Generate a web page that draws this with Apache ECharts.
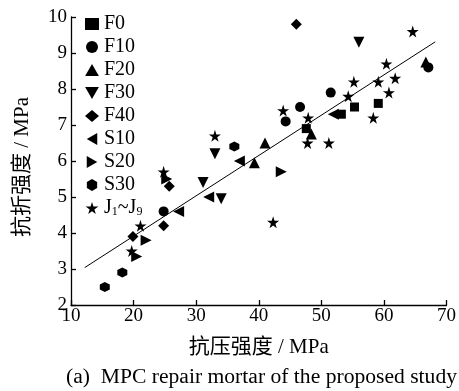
<!DOCTYPE html>
<html>
<head>
<meta charset="utf-8">
<script src="https://cdn.jsdelivr.net/npm/echarts@6/dist/echarts.min.js"></script>
<style>
  html, body { margin: 0; padding: 0; background: #fff; }
  #chart { width: 459px; height: 391px; }
</style>
</head>
<body>
<div id="chart"></div>
<script>
// 抗压强度 (x) / 抗折强度 (y)
const F0 = [[47.6, 6.9], [53.2, 7.3], [55.3, 7.5], [59.1, 7.6]]
const F10 = [[24.8, 4.6], [44.3, 7.1], [46.6, 7.5], [51.5, 7.9], [67.1, 8.6]]
const F20 = [[39.3, 5.95], [41.0, 6.5], [48.4, 6.75], [66.7, 8.75]]
const F30 = [[31.1, 5.4], [33.0, 6.2], [34.0, 4.95], [56.0, 9.3]]
const F40 = [[19.9, 3.9], [24.8, 4.2], [25.7, 5.3], [46.0, 9.8]]
const S10 = [[27.2, 4.6], [32.0, 5.0], [36.9, 6.0], [51.9, 7.3]]
const S20 = [[20.5, 3.35], [22.0, 3.8], [25.3, 5.5], [43.6, 5.7]]
const S30 = [[15.4, 2.5], [18.2, 2.9], [36.1, 6.4]]
const J = [
  [19.7, 3.5], [21.1, 4.2], [24.8, 5.7], [33.0, 6.7], [42.3, 4.3],
  [43.9, 7.4], [47.9, 7.2], [47.8, 6.5], [51.2, 6.5], [54.3, 7.8],
  [55.2, 8.2], [58.3, 7.2], [59.1, 8.2], [60.4, 8.7], [60.8, 7.9],
  [61.8, 8.3], [64.6, 9.6]
]
// 拟合直线端点
const trendX = [12.2, 68.2]
const trendY = [3.04, 9.31]

const serif = '"Liberation Serif", "Noto Sans CJK SC", serif'
const starPath = 'path://M50,0 L61,35 L98,35 L68,57 L79,91 L50,70 L21,91 L32,57 L2,35 L39,35 Z'
const hexPath = 'path://M50,0 L93,25 L93,75 L50,100 L7,75 L7,25 Z'
const triUp = 'path://M50,0 L100,87 L0,87 Z'
const triDown = 'path://M0,0 L100,0 L50,87 Z'
const triLeft = 'path://M0,50 L87,0 L87,100 Z'
const triRight = 'path://M0,0 L87,50 L0,100 Z'

function scatter(name, data, symbol, size) {
  return {
    name: name,
    type: 'scatter',
    data: data,
    symbol: symbol,
    symbolSize: size,
    itemStyle: { color: '#000', opacity: 1 },
    z: 3
  }
}

const chartDom = echarts.init(document.getElementById('chart'))
const option = {
  backgroundColor: '#fff',
  animation: false,
  textStyle: { fontFamily: serif },
  grid: { left: 71, right: 11, top: 17, bottom: 86 },
  legend: {
    orient: 'vertical',
    left: 80,
    top: 9,
    itemWidth: 14,
    itemHeight: 12,
    itemGap: 3,
    data: ['F0', 'F10', 'F20', 'F30', 'F40', 'S10', 'S20', 'S30', 'J'],
    formatter: function(name) {
      return name === 'J' ? 'J{sub|1}~J{sub|9}' : name
    },
    textStyle: {
      fontFamily: serif,
      fontSize: 20,
      lineHeight: 20,
      color: '#000',
      rich: {
        sub: { fontFamily: serif, fontSize: 12, verticalAlign: 'bottom', padding: [9, 0, 0, 0], color: '#000' }
      }
    }
  },
  xAxis: {
    type: 'value',
    min: 10,
    max: 70,
    interval: 10,
    name: '抗压强度 / MPa',
    nameLocation: 'middle',
    nameGap: 32,
    nameTextStyle: { fontFamily: serif, fontSize: 21, color: '#000' },
    axisLine: { lineStyle: { color: '#000', width: 1.3 } },
    axisTick: { inside: true, length: 5, lineStyle: { color: '#000', width: 1.3 } },
    axisLabel: { fontFamily: serif, fontSize: 19, color: '#000', margin: 2 },
    splitLine: { show: false }
  },
  yAxis: {
    type: 'value',
    min: 2,
    max: 10,
    interval: 1,
    name: '抗折强度 / MPa',
    nameLocation: 'middle',
    nameGap: 38,
    nameTextStyle: { fontFamily: serif, fontSize: 21, color: '#000', padding: [0, 12, 0, 0] },
    axisLine: { show: true, lineStyle: { color: '#000', width: 1.3 } },
    axisTick: { show: true, inside: true, length: 5, lineStyle: { color: '#000', width: 1.3 } },
    axisLabel: { fontFamily: serif, fontSize: 19, color: '#000', margin: 4 },
    splitLine: { show: false }
  },
  graphic: [
    {
      type: 'text',
      left: 66,
      top: 367,
      style: {
        text: '(a)  MPC repair mortar of the proposed study',
        font: '21.6px ' + serif,
        fill: '#000'
      }
    }
  ],
  series: [
    {
      name: 'trend',
      type: 'line',
      data: trendX.map((x, i) => [x, trendY[i]]),
      symbol: 'none',
      lineStyle: { color: '#000', width: 1 },
      z: 2
    },
    scatter('F0', F0, 'rect', 9),
    scatter('F10', F10, 'circle', 10),
    scatter('F20', F20, triUp, 11),
    scatter('F30', F30, triDown, 11),
    scatter('F40', F40, 'diamond', 11),
    scatter('S10', S10, triLeft, 11),
    scatter('S20', S20, triRight, 11),
    scatter('S30', S30, hexPath, 10),
    scatter('J', J, starPath, 12)
  ]
}
chartDom.setOption(option)
</script>
</body>
</html>
